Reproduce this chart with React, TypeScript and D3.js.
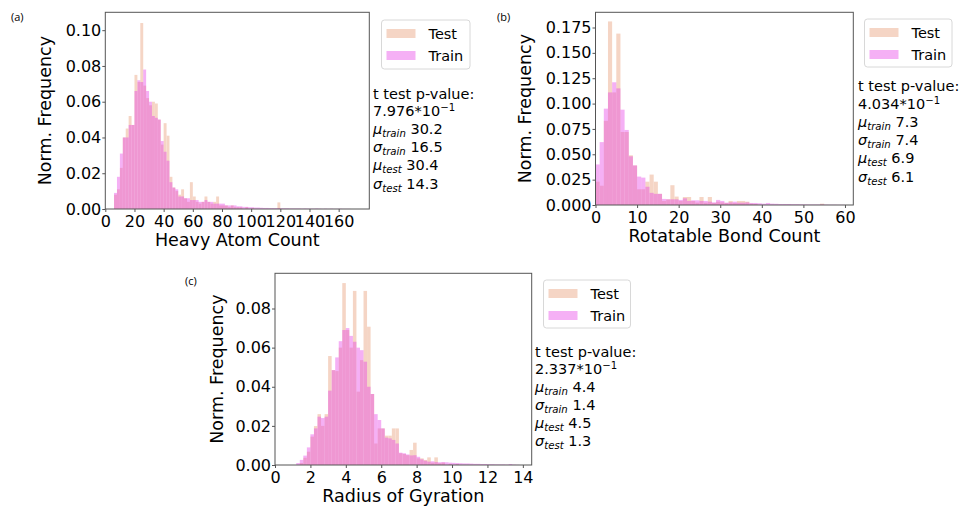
import * as d3 from "d3";
import { useEffect, useRef } from "react";

// (a) heavy atom count, bins of 2 starting at 6
const heavyBinStart = 6;
const heavyBinWidth = 2;
const heavyTest = [
  0.008, 0.011, 0.023, 0.04, 0.045, 0.052, 0.047, 0.075, 0.071, 0.104, 0.069, 0.062, 0.058, 0.06, 0.059, 0.05,
  0.036, 0.048, 0.041, 0.018, 0.012, 0.01, 0.008, 0.011, 0.006, 0.004, 0.015, 0.007, 0.004, 0.003, 0.004, 0.007,
  0.004, 0.003, 0.004, 0.007, 0.002, 0.002, 0.002, 0.001, 0.002, 0.001, 0.001, 0.001, 0, 0.001, 0, 0.0005,
  0, 0, 0, 0, 0, 0, 0, 0, 0.0037,
];
const heavyTrain = [
  0.009, 0.018, 0.031, 0.04, 0.04, 0.047, 0.047, 0.066, 0.072, 0.071, 0.078, 0.066, 0.06, 0.052, 0.051, 0.05,
  0.038, 0.032, 0.027, 0.015, 0.012, 0.011, 0.007, 0.007, 0.006, 0.006, 0.005, 0.005, 0.005, 0.004, 0.004, 0.005,
  0.004, 0.004, 0.003, 0.003, 0.003, 0.003, 0.002, 0.002, 0.002, 0.002, 0.0015, 0.0015, 0.0012, 0.0012, 0.001, 0.001,
  0.0008, 0.0008, 0.0007, 0.0006, 0.0006, 0.0005, 0.0005, 0.0005, 0.0005, 0.0004, 0.0004, 0.0004, 0.0003, 0.0003,
  0.0003, 0.0003, 0.0002, 0.0003, 0.0002, 0.0002, 0.0002, 0.0003, 0.0002, 0.0001, 0.0002, 0.0001, 0.0002, 0.0001,
  0.0001, 0.0002, 0.0001, 0.0001, 0.0001,
];
const heavyXTicks = [0, 20, 40, 60, 80, 100, 120, 140, 160];
const heavyYTicks = [0, 0.02, 0.04, 0.06, 0.08, 0.1];
const heavyStats = ["7.976", "30.2", "16.5", "30.4", "14.3"];

// (b) rotatable bond count, one bin per integer
const rotBinStart = 0;
const rotBinWidth = 1;
const rotTest = [
  0.023, 0.019, 0.083, 0.181, 0.111, 0.169, 0.072, 0.072, 0.049, 0.039, 0.0155, 0.0155, 0.023, 0.03, 0.023, 0.011,
  0.004, 0.0056, 0.0195, 0.0083, 0.004, 0.0079, 0.0079, 0.004, 0.0023, 0.0079, 0.0023, 0.0079, 0.002, 0.0033, 0.0026,
  0.002, 0.004, 0.002, 0.004, 0.004, 0.0033, 0.0013, 0.001, 0, 0, 0, 0, 0, 0, 0, 0, 0, 0, 0, 0, 0, 0, 0, 0.0013,
];
const rotTrain = [
  0.04, 0.062, 0.095, 0.111, 0.121, 0.115, 0.094, 0.074, 0.048, 0.039, 0.028, 0.027, 0.018, 0.012, 0.011, 0.011,
  0.006, 0.0056, 0.0056, 0.0056, 0.005, 0.0066, 0.004, 0.0046, 0.0046, 0.004, 0.004, 0.0033, 0.0026, 0.005, 0.004,
  0.0023, 0.0026, 0.0033, 0.0023, 0.0023, 0.0026, 0.002, 0.002, 0.0017, 0.0013, 0.002, 0.0013, 0.0012, 0.001, 0.001,
  0.001, 0.0008, 0.0008, 0.0007, 0.0006, 0.0005, 0.0005, 0.0005, 0.0005, 0.0004, 0.0003, 0.0003, 0.0002, 0.0002,
];
const rotXTicks = [0, 10, 20, 30, 40, 50, 60];
const rotYTicks = [0, 0.025, 0.05, 0.075, 0.1, 0.125, 0.15, 0.175];
const rotStats = ["4.034", "7.3", "7.4", "6.9", "6.1"];

// (c) radius of gyration, bins of 0.2 starting at 1.2
const rgBinStart = 1.2;
const rgBinWidth = 0.2;
const rgTest = [
  0, 0.001, 0.0037, 0.0068, 0.0145, 0.0199, 0.026, 0.02, 0.026, 0.0557, 0.0485, 0.048, 0.06, 0.093, 0.069, 0.06,
  0.089, 0.0375, 0.0536, 0.089, 0.0707, 0.0363, 0.011, 0.0187, 0.0187, 0.015, 0.015, 0.0187, 0.0187, 0.006, 0.0056,
  0.005, 0.0077, 0.0114, 0.0034, 0.0034, 0.0026, 0.0039, 0.0012, 0.0039, 0.0009, 0.0012, 0, 0.0005, 0, 0.0005,
];
const rgTrain = [
  0.001, 0.0026, 0.0048, 0.009, 0.0157, 0.0187, 0.0247, 0.024, 0.0247, 0.038, 0.0485, 0.055, 0.0633, 0.069, 0.07,
  0.066, 0.063, 0.06, 0.0587, 0.0528, 0.04, 0.0363, 0.026, 0.023, 0.0187, 0.014, 0.0136, 0.0128, 0.011, 0.0063, 0.006,
  0.0054, 0.0049, 0.005, 0.0042, 0.0029, 0.0022, 0.0017, 0.0019, 0.0015, 0.0014, 0.0015, 0.0014, 0.0012, 0.0011,
  0.001, 0.0009, 0.0008, 0.0008, 0.0007, 0.0006, 0.0006, 0.0005, 0.0005, 0.0004, 0.0004, 0.0003, 0.0003, 0.0003,
  0.0002, 0.0005, 0.0002, 0.0001,
];
const rgXTicks = [0, 2, 4, 6, 8, 10, 12, 14];
const rgYTicks = [0, 0.02, 0.04, 0.06, 0.08];
const rgStats = ["2.337", "4.4", "1.4", "4.5", "1.3"];

const FONT = "DejaVu Sans, sans-serif";
// test drawn first (opaque peach), train laid over it semi-transparent
const TEST_COLOR = "rgb(245,213,197)";
const TEST_OPACITY = 1;
const TRAIN_COLOR = "rgb(230,57,230)";
const TRAIN_OPACITY = 0.4;
const SPINE = "#555";

const panels = [
  {
    tag: "(a)", tagPos: [11, 21],
    binStart: heavyBinStart, binWidth: heavyBinWidth, test: heavyTest, train: heavyTrain,
    box: { left: 105.3, right: 369.3, top: 12.3, bottom: 209 },
    xDomain: [0, 181], yDomain: [0, 0.11], xTicks: heavyXTicks, yTicks: heavyYTicks, yFmt: ".2f",
    xLabel: "Heavy Atom Count", yLabelX: 51,
    legend: { x: 381.5, y: 20, w: 88.5, h: 49 },
    statsX: 373, statsY: [99, 116, 134, 152, 170, 189], stats: heavyStats,
  },
  {
    tag: "(b)", tagPos: [497, 21],
    binStart: rotBinStart, binWidth: rotBinWidth, test: rotTest, train: rotTrain,
    box: { left: 595.5, right: 853.3, top: 12.3, bottom: 205 },
    xDomain: [0, 62], yDomain: [0, 0.19], xTicks: rotXTicks, yTicks: rotYTicks, yFmt: ".3f",
    xLabel: "Rotatable Bond Count", yLabelX: 531,
    legend: { x: 864.5, y: 19, w: 87.5, h: 48 },
    statsX: 858, statsY: [91, 109, 127, 145, 163, 182], stats: rotStats,
  },
  {
    tag: "(c)", tagPos: [185, 285],
    binStart: rgBinStart, binWidth: rgBinWidth, test: rgTest, train: rgTrain,
    box: { left: 275, right: 531.7, top: 273.3, bottom: 465 },
    xDomain: [0, 14.5], yDomain: [0, 0.098], xTicks: rgXTicks, yTicks: rgYTicks, yFmt: ".2f",
    xLabel: "Radius of Gyration", yLabelX: 223,
    legend: { x: 543.5, y: 280, w: 87, h: 48 },
    statsX: 535, statsY: [357, 374, 392, 410, 428, 446], stats: rgStats,
  },
];

function drawPanel(svg, p) {
  const { left, right, top, bottom } = p.box;
  const x = d3.scaleLinear().domain(p.xDomain).range([left, right]);
  const y = d3.scaleLinear().domain(p.yDomain).range([bottom, top]);
  const g = svg.append("g");

  const series = [
    { values: p.test, color: TEST_COLOR, opacity: TEST_OPACITY },
    { values: p.train, color: TRAIN_COLOR, opacity: TRAIN_OPACITY },
  ];
  series.forEach((s) => {
    g.append("g")
      .selectAll("rect")
      .data(s.values)
      .enter()
      .append("rect")
      .attr("x", (d, i) => x(p.binStart + i * p.binWidth))
      .attr("width", (d, i) => x(p.binStart + (i + 1) * p.binWidth) - x(p.binStart + i * p.binWidth))
      .attr("y", (d) => y(d))
      .attr("height", (d) => bottom - y(d))
      .attr("fill", s.color)
      .attr("fill-opacity", s.opacity);
  });

  // axes
  const xAxis = g.append("g").attr("transform", `translate(0,${bottom})`)
    .call(d3.axisBottom(x).tickValues(p.xTicks).tickSize(3).tickPadding(4).tickFormat(d3.format("d")));
  const yAxis = g.append("g").attr("transform", `translate(${left},0)`)
    .call(d3.axisLeft(y).tickValues(p.yTicks).tickSize(3).tickPadding(1).tickFormat(d3.format(p.yFmt)));
  [xAxis, yAxis].forEach((a) => {
    a.select(".domain").remove();
    a.selectAll("line").attr("stroke", SPINE);
    a.selectAll("text").attr("font-family", FONT).attr("font-size", 16).attr("fill", "#000");
  });

  g.append("rect")
    .attr("x", left).attr("y", top)
    .attr("width", right - left).attr("height", bottom - top)
    .attr("fill", "none").attr("stroke", SPINE).attr("stroke-width", 1);

  g.append("text")
    .attr("x", (left + right) / 2).attr("y", bottom + 36.5)
    .attr("text-anchor", "middle").attr("font-family", FONT).attr("font-size", 17.5)
    .text(p.xLabel);
  g.append("text")
    .attr("transform", `translate(${p.yLabelX},${(top + bottom) / 2}) rotate(-90)`)
    .attr("text-anchor", "middle").attr("font-family", FONT).attr("font-size", 17.5)
    .text("Norm. Frequency");

  // panel tag
  svg.append("text")
    .attr("x", p.tagPos[0]).attr("y", p.tagPos[1])
    .attr("font-family", "Open Sans, sans-serif").attr("font-size", 11)
    .text(p.tag);

  // legend
  const L = p.legend;
  const lg = svg.append("g");
  lg.append("rect")
    .attr("x", L.x).attr("y", L.y).attr("width", L.w).attr("height", L.h).attr("rx", 3)
    .attr("fill", "#fff").attr("stroke", "#d8d8d8");
  [
    { name: "Test", color: TEST_COLOR, opacity: TEST_OPACITY, dy: 9 },
    { name: "Train", color: TRAIN_COLOR, opacity: TRAIN_OPACITY, dy: 31 },
  ].forEach((e) => {
    lg.append("rect")
      .attr("x", L.x + 5).attr("y", L.y + e.dy).attr("width", 29).attr("height", 9)
      .attr("fill", e.color).attr("fill-opacity", e.opacity);
    lg.append("text")
      .attr("x", L.x + 47).attr("y", L.y + e.dy + 10)
      .attr("font-family", FONT).attr("font-size", 14.5)
      .text(e.name);
  });

  // stats block
  const [pv, muTr, sdTr, muTe, sdTe] = p.stats;
  const fs = 14.5;
  const line = (i) => svg.append("text")
    .attr("x", p.statsX).attr("y", p.statsY[i])
    .attr("font-family", FONT).attr("font-size", fs);
  line(0).text("t test p-value:");
  const l1 = line(1);
  l1.append("tspan").text(`${pv}*10`);
  l1.append("tspan").attr("font-size", fs * 0.7).attr("dy", -5.5).text("\u22121");
  const sym = (i, s, sub, val) => {
    const t = line(i);
    t.append("tspan").attr("font-style", "italic").text(s);
    t.append("tspan").attr("font-style", "italic").attr("font-size", fs * 0.7).attr("dy", 3).text(sub);
    t.append("tspan").attr("dy", -3).text(` ${val}`);
  };
  sym(2, "\u03bc", "train", muTr);
  sym(3, "\u03c3", "train", sdTr);
  sym(4, "\u03bc", "test", muTe);
  sym(5, "\u03c3", "test", sdTe);
}

const App = () => {
  const svgRef = useRef(null);

  useEffect(() => {
    const svg = d3.select(svgRef.current);
    svg.selectAll("*").remove();
    svg.append("rect").attr("width", 960).attr("height", 506).attr("fill", "#fff");
    panels.forEach((p) => drawPanel(svg, p));
  }, []);

  return (
    <svg
      ref={svgRef}
      width={960}
      height={506}
      style={{ position: "absolute", left: 0, top: 0 }}
    ></svg>
  );
};

export default App;
